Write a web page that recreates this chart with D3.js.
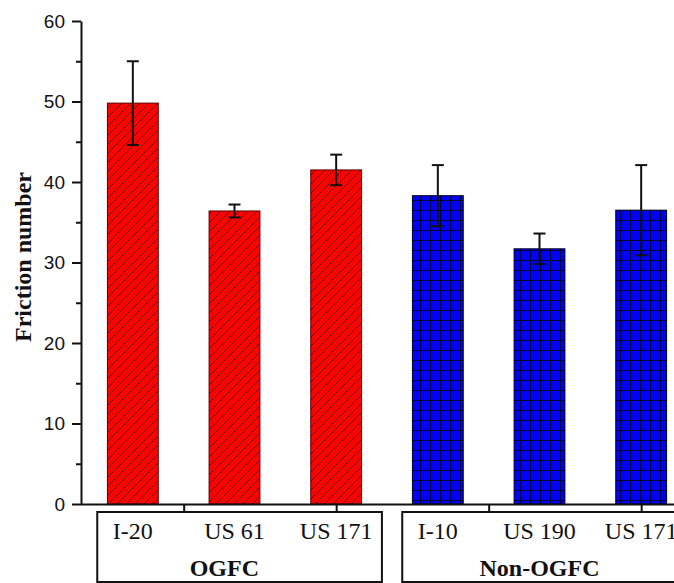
<!DOCTYPE html>
<html lang="en">
<head>
<meta charset="UTF-8" />
<title>Friction number</title>
<style>
  body { margin: 0; background: #fff; }
  svg { display: block; }
</style>
</head>
<body>
<script src="https://cdn.jsdelivr.net/npm/d3@7"></script>
<div id="app"></div>
<script>
// data
const sites = ["I-20", "US 61", "US 171", "I-10", "US 190", "US 171"];
const friction = [49.8, 36.4, 41.5, 38.3, 31.7, 36.5];
const errors = [5.2, 0.8, 1.9, 3.8, 1.9, 5.6];
const siteGroup = [0, 0, 0, 1, 1, 1];
const groupNames = ["OGFC", "Non-OGFC"];
const groupFirst = [0, 3];
const groupLast = [2, 5];
const groupLabelAt = [0.9, 4];
const yMajor = [0, 10, 20, 30, 40, 50, 60];
const yMinor = [5, 15, 25, 35, 45, 55];
const xTickAt = [0.5, 2, 3.5, 5];

const w = 674, h = 583;

const svg = d3.select("#app").append("svg")
  .attr("width", w).attr("height", h);

// patterns
const defs = svg.append("defs");
const hatch = defs.append("pattern")
  .attr("id", "hatch").attr("patternUnits", "userSpaceOnUse")
  .attr("width", 9).attr("height", 9);
hatch.append("rect").attr("width", 9).attr("height", 9).attr("fill", "#ff0000");
hatch.append("path").attr("d", "M-1,10 L10,-1 M-1,1 L1,-1 M8,10 L10,8")
  .attr("stroke", "#6e0000").attr("stroke-width", 1);

const grid = defs.append("pattern")
  .attr("id", "grid").attr("patternUnits", "userSpaceOnUse")
  .attr("width", 10).attr("height", 10);
grid.append("rect").attr("width", 10).attr("height", 10).attr("fill", "#0000ff");
grid.append("path").attr("d", "M0,0.5 H10 M0.5,0 V10")
  .attr("stroke", "#000033").attr("stroke-width", 1);

// scales
const x = d3.scaleLinear().domain([-0.5, 5.5]).range([82, 692]);
const step = x(1) - x(0);
const barW = step * 0.5;
const y = d3.scaleLinear().domain([0, 60]).range([504, 21]);

// bars
svg.selectAll("rect.bar")
  .data(friction)
  .enter()
  .append("rect")
  .attr("class", "bar")
  .attr("x", (d, i) => x(i) - barW / 2)
  .attr("y", d => y(d))
  .attr("width", barW)
  .attr("height", d => y(0) - y(d))
  .attr("fill", (d, i) => siteGroup[i] === 0 ? "url(#hatch)" : "url(#grid)")
  .attr("stroke", (d, i) => siteGroup[i] === 0 ? "#5a0000" : "#000022")
  .attr("stroke-width", 1);

// error bars
const eb = svg.append("g").attr("stroke", "#111").attr("stroke-width", 2);
friction.forEach((v, i) => {
  const cx = x(i);
  eb.append("line").attr("x1", cx).attr("x2", cx)
    .attr("y1", y(v + errors[i])).attr("y2", y(v - errors[i]));
  [v + errors[i], v - errors[i]].forEach(e => {
    eb.append("line").attr("x1", cx - 6).attr("x2", cx + 6)
      .attr("y1", y(e)).attr("y2", y(e));
  });
});

// y axis
const yAxis = svg.append("g")
  .attr("transform", "translate(81,0)")
  .call(d3.axisLeft(y).tickValues(yMajor).tickSize(9).tickSizeOuter(0).tickPadding(7));
yAxis.selectAll("text")
  .style("font-family", "'Liberation Sans', Arial, sans-serif")
  .style("font-size", "19px")
  .attr("fill", "#111");
svg.append("g")
  .attr("transform", "translate(81,0)")
  .call(d3.axisLeft(y).tickValues(yMinor).tickSize(5).tickFormat(""))
  .select(".domain").remove();

// x axis
const xAxis = svg.append("g")
  .attr("transform", "translate(0,504)")
  .call(d3.axisBottom(x).tickValues(xTickAt).tickSize(8).tickSizeOuter(0).tickFormat(""));
xAxis.select(".domain").attr("d", `M81,0.5H${w}`);

svg.selectAll(".domain, .tick line")
  .attr("stroke", "#111").attr("stroke-width", 2);

// group boxes
groupNames.forEach((g, k) => {
  const left = x(groupFirst[k] - 0.35), right = x(groupLast[k] + 0.45);
  svg.append("rect")
    .attr("x", left).attr("y", 512)
    .attr("width", right - left).attr("height", 70)
    .attr("fill", "none").attr("stroke", "#111").attr("stroke-width", 2);
  svg.append("text")
    .attr("x", x(groupLabelAt[k])).attr("y", 576)
    .attr("text-anchor", "middle")
    .style("font-family", "'Liberation Serif', 'Times New Roman', serif")
    .style("font-weight", "bold")
    .style("font-size", "24px")
    .attr("fill", "#111")
    .text(g);
});

// site labels
svg.selectAll("text.site")
  .data(sites)
  .enter()
  .append("text")
  .attr("class", "site")
  .attr("x", (d, i) => x(i))
  .attr("y", 539)
  .attr("text-anchor", "middle")
  .style("font-family", "'Liberation Serif', 'Times New Roman', serif")
  .style("font-size", "24px")
  .attr("fill", "#111")
  .text(d => d);

// y title
svg.append("text")
  .attr("transform", "translate(31,257) rotate(-90)")
  .attr("text-anchor", "middle")
  .style("font-family", "'Liberation Serif', 'Times New Roman', serif")
  .style("font-weight", "bold")
  .style("font-size", "24px")
  .attr("fill", "#111")
  .text("Friction number");
</script>
</body>
</html>
